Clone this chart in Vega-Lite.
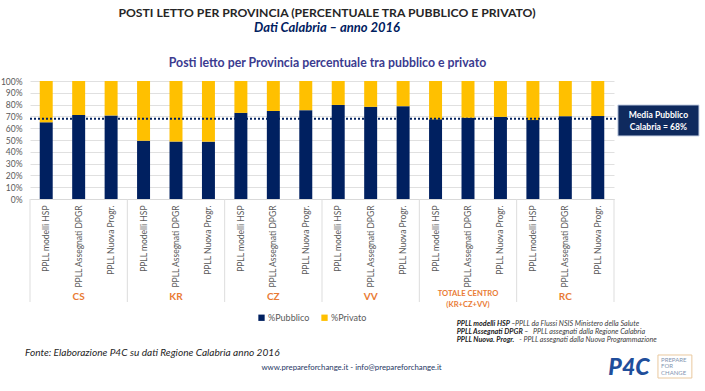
{
  "$schema": "https://vega.github.io/schema/vega-lite/v6.json",
  "width": 584,
  "height": 118,
  "autosize": {"type": "none"},
  "padding": {"left": 30, "top": 81, "right": 91, "bottom": 192},
  "background": "white",
  "title": {
    "text": "POSTI LETTO PER PROVINCIA (PERCENTUALE TRA PUBBLICO E PRIVATO)",
    "subtitle": "Dati Calabria – anno 2016",
    "anchor": "middle",
    "frame": "group",
    "offset": 22,
    "dx": 5,
    "font": "Lato",
    "fontSize": 12.2,
    "fontWeight": "bold",
    "color": "#262626",
    "subtitleFont": "Lato",
    "subtitleFontSize": 13,
    "subtitleFontStyle": "italic",
    "subtitleFontWeight": "bold",
    "subtitleColor": "#002060",
    "subtitlePadding": 3
  },
  "config": {
    "font": "Lato",
    "view": {"stroke": null},
    "axisY": {"labelOverlap": false}
  },
  "resolve": {"axis": {"x": "independent", "y": "independent"}},
  "data": {
    "values": [
      {"id": "CS|PPLL modelli HSP", "prov": "CS", "gruppo": "CS", "tipo": "PPLL modelli HSP", "pubblico": 65.0, "privato": 35.0},
      {"id": "CS|PPLL Assegnati DPGR", "prov": "CS", "gruppo": "CS", "tipo": "PPLL Assegnati DPGR", "pubblico": 71.2, "privato": 28.8},
      {"id": "CS|PPLL Nuova Progr.", "prov": "CS", "gruppo": "CS", "tipo": "PPLL Nuova Progr.", "pubblico": 70.8, "privato": 29.2},
      {"id": "KR|PPLL modelli HSP", "prov": "KR", "gruppo": "KR", "tipo": "PPLL modelli HSP", "pubblico": 49.4, "privato": 50.6},
      {"id": "KR|PPLL Assegnati DPGR", "prov": "KR", "gruppo": "KR", "tipo": "PPLL Assegnati DPGR", "pubblico": 48.7, "privato": 51.3},
      {"id": "KR|PPLL Nuova Progr.", "prov": "KR", "gruppo": "KR", "tipo": "PPLL Nuova Progr.", "pubblico": 48.6, "privato": 51.4},
      {"id": "CZ|PPLL modelli HSP", "prov": "CZ", "gruppo": "CZ", "tipo": "PPLL modelli HSP", "pubblico": 73.0, "privato": 27.0},
      {"id": "CZ|PPLL Assegnati DPGR", "prov": "CZ", "gruppo": "CZ", "tipo": "PPLL Assegnati DPGR", "pubblico": 74.6, "privato": 25.4},
      {"id": "CZ|PPLL Nuova Progr.", "prov": "CZ", "gruppo": "CZ", "tipo": "PPLL Nuova Progr.", "pubblico": 75.3, "privato": 24.7},
      {"id": "VV|PPLL modelli HSP", "prov": "VV", "gruppo": "VV", "tipo": "PPLL modelli HSP", "pubblico": 79.7, "privato": 20.3},
      {"id": "VV|PPLL Assegnati DPGR", "prov": "VV", "gruppo": "VV", "tipo": "PPLL Assegnati DPGR", "pubblico": 78.1, "privato": 21.9},
      {"id": "VV|PPLL Nuova Progr.", "prov": "VV", "gruppo": "VV", "tipo": "PPLL Nuova Progr.", "pubblico": 78.7, "privato": 21.3},
      {"id": "TC|PPLL modelli HSP", "prov": "TC", "gruppo": "TOTALE CENTRO\n(KR+CZ+VV)", "tipo": "PPLL modelli HSP", "pubblico": 67.5, "privato": 32.5},
      {"id": "TC|PPLL Assegnati DPGR", "prov": "TC", "gruppo": "TOTALE CENTRO\n(KR+CZ+VV)", "tipo": "PPLL Assegnati DPGR", "pubblico": 68.8, "privato": 31.2},
      {"id": "TC|PPLL Nuova Progr.", "prov": "TC", "gruppo": "TOTALE CENTRO\n(KR+CZ+VV)", "tipo": "PPLL Nuova Progr.", "pubblico": 69.6, "privato": 30.4},
      {"id": "RC|PPLL modelli HSP", "prov": "RC", "gruppo": "RC", "tipo": "PPLL modelli HSP", "pubblico": 66.9, "privato": 33.1},
      {"id": "RC|PPLL Assegnati DPGR", "prov": "RC", "gruppo": "RC", "tipo": "PPLL Assegnati DPGR", "pubblico": 70.2, "privato": 29.8},
      {"id": "RC|PPLL Nuova Progr.", "prov": "RC", "gruppo": "RC", "tipo": "PPLL Nuova Progr.", "pubblico": 70.3, "privato": 29.7}
    ]
  },
  "layer": [
    {
      "transform": [{"fold": ["pubblico", "privato"], "as": ["serie", "valore"]}],
      "mark": {"type": "bar", "width": {"band": 0.4}},
      "encoding": {
        "x": {
          "field": "id",
          "type": "nominal",
          "scale": {
            "domain": ["CS|PPLL modelli HSP", "CS|PPLL Assegnati DPGR", "CS|PPLL Nuova Progr.", "KR|PPLL modelli HSP", "KR|PPLL Assegnati DPGR", "KR|PPLL Nuova Progr.", "CZ|PPLL modelli HSP", "CZ|PPLL Assegnati DPGR", "CZ|PPLL Nuova Progr.", "VV|PPLL modelli HSP", "VV|PPLL Assegnati DPGR", "VV|PPLL Nuova Progr.", "TC|PPLL modelli HSP", "TC|PPLL Assegnati DPGR", "TC|PPLL Nuova Progr.", "RC|PPLL modelli HSP", "RC|PPLL Assegnati DPGR", "RC|PPLL Nuova Progr."],
            "paddingInner": 0,
            "paddingOuter": 0
          },
          "axis": {
            "title": null,
            "labelExpr": "split(datum.value, '|')[1]",
            "labelAngle": -90,
            "labelFontSize": 8.5,
            "labelColor": "#595959",
            "ticks": false,
            "domainColor": "#D9D9D9",
            "labelPadding": 6,
            "grid": false
          }
        },
        "y": {
          "field": "valore",
          "type": "quantitative",
          "stack": "zero",
          "scale": {"domain": [0, 100], "nice": false},
          "axis": {
            "title": null,
            "values": [0, 10, 20, 30, 40, 50, 60, 70, 80, 90, 100],
            "labelExpr": "datum.value + '%'",
            "labelOverlap": false,
            "labelFontSize": 8.5,
            "labelColor": "#595959",
            "domain": false,
            "ticks": false,
            "grid": true,
            "gridColor": "#E0E0E0",
            "gridWidth": 1,
            "labelPadding": 8
          }
        },
        "color": {
          "field": "serie",
          "type": "nominal",
          "scale": {"domain": ["pubblico", "privato"], "range": ["#002060", "#FFC000"]},
          "legend": {
            "title": null,
            "orient": "none",
            "legendX": 227,
            "legendY": 232,
            "direction": "horizontal",
            "symbolType": "square",
            "symbolSize": 40,
            "symbolStrokeWidth": 0,
            "labelFontSize": 9,
            "labelColor": "#595959",
            "labelOffset": 2,
            "columnPadding": 10,
            "labelExpr": "datum.label == 'pubblico' ? '%Pubblico' : '%Privato'"
          }
        },
        "order": {"field": "serie", "sort": "descending"}
      }
    },
    {
      "data": {"values": [{}]},
      "mark": {"type": "rule", "color": "#002060", "strokeWidth": 2, "strokeDash": [2, 2]},
      "encoding": {
        "y": {"datum": 68, "axis": null},
        "x": {"datum": "CS|PPLL modelli HSP", "bandPosition": 0, "axis": null},
        "x2": {"datum": "RC|PPLL Nuova Progr.", "bandPosition": 1.12}
      }
    },
    {
      "transform": [{"filter": "datum.tipo == 'PPLL modelli HSP'"}],
      "mark": {"type": "rule", "color": "#DDDDDD", "strokeWidth": 1},
      "encoding": {
        "x": {"field": "id", "type": "nominal", "bandPosition": 0, "axis": null},
        "y": {"datum": 0, "axis": null},
        "y2": {"datum": -87.3}
      }
    },
    {
      "data": {"values": [{}]},
      "mark": {"type": "rule", "color": "#DDDDDD", "strokeWidth": 1},
      "encoding": {
        "x": {"datum": "RC|PPLL Nuova Progr.", "bandPosition": 1, "axis": null},
        "y": {"datum": 0, "axis": null},
        "y2": {"datum": -87.3}
      }
    },
    {
      "transform": [{"filter": "datum.tipo == 'PPLL Assegnati DPGR' && datum.prov != 'TC'"}],
      "mark": {"type": "text", "color": "#E97B35", "fontWeight": "bold", "fontSize": 10, "baseline": "middle", "align": "center"},
      "encoding": {
        "x": {"field": "id", "type": "nominal", "axis": null},
        "y": {"datum": -82.8, "axis": null},
        "text": {"field": "gruppo"}
      }
    },
    {
      "transform": [{"filter": "datum.tipo == 'PPLL Assegnati DPGR' && datum.prov == 'TC'"}],
      "mark": {"type": "text", "color": "#E97B35", "fontWeight": "bold", "fontSize": 7.6, "lineBreak": "\n", "lineHeight": 11, "baseline": "middle", "align": "center"},
      "encoding": {
        "x": {"field": "id", "type": "nominal", "axis": null},
        "y": {"datum": -80.6, "axis": null},
        "text": {"field": "gruppo"}
      }
    },
    {
      "data": {"values": [{}]},
      "mark": {"type": "rect", "fill": "#0F2A5E", "stroke": "#C9D3E6", "strokeWidth": 1},
      "encoding": {
        "x": {"datum": "RC|PPLL Nuova Progr.", "bandPosition": 1.12, "axis": null},
        "x2": {"datum": "RC|PPLL Nuova Progr.", "bandPosition": 3.62},
        "y": {"datum": 79.7, "axis": null},
        "y2": {"datum": 53.4}
      }
    },
    {
      "data": {"values": [{}]},
      "mark": {"type": "text", "color": "white", "fontWeight": "bold", "fontSize": 8.6, "lineHeight": 12, "align": "center", "baseline": "middle"},
      "encoding": {
        "x": {"datum": "RC|PPLL Nuova Progr.", "bandPosition": 2.37, "axis": null},
        "y": {"datum": 71.2, "axis": null},
        "text": {"value": ["Media Pubblico", "Calabria = 68%"]}
      }
    },
    {
      "data": {"values": [{}]},
      "mark": {"type": "text", "color": "#3B3B8F", "fontWeight": "bold", "fontSize": 12.3, "align": "center", "baseline": "middle"},
      "encoding": {
        "x": {"datum": "VV|PPLL modelli HSP", "bandPosition": 0.17, "axis": null},
        "y": {"datum": 115.3, "axis": null},
        "text": {"value": "Posti letto per Provincia percentuale tra pubblico e privato"}
      }
    },
    {
      "data": {"values": [{}]},
      "mark": {"type": "text", "color": "#262626", "fontStyle": "italic", "fontSize": 10.1, "align": "left", "baseline": "middle", "dx": -5},
      "encoding": {
        "x": {"datum": "CS|PPLL modelli HSP", "bandPosition": 0, "axis": null},
        "y": {"datum": -130.5, "axis": null},
        "text": {"value": "Fonte: Elaborazione P4C su dati Regione Calabria anno 2016"}
      }
    },
    {
      "data": {"values": [{}]},
      "mark": {"type": "text", "color": "#1F3864", "fontSize": 7.8, "align": "center", "baseline": "middle"},
      "encoding": {
        "x": {"datum": "VV|PPLL modelli HSP", "bandPosition": 0.91, "axis": null},
        "y": {"datum": -143, "axis": null},
        "text": {"value": "www.prepareforchange.it - info@prepareforchange.it"}
      }
    },
    {
      "data": {"values": [{}]},
      "mark": {"type": "text", "color": "#1A1A1A", "fontStyle": "italic", "fontWeight": "bold", "fontSize": 7.2, "lineHeight": 8, "align": "left", "baseline": "middle"},
      "encoding": {
        "x": {"datum": "TC|PPLL Assegnati DPGR", "bandPosition": 0.15, "axis": null},
        "y": {"datum": -106.0, "axis": null},
        "text": {"value": ["PPLL modelli HSP –", "PPLL Assegnati DPGR –", "PPLL Nuova. Progr."]}
      }
    },
    {
      "data": {"values": [{}]},
      "mark": {"type": "text", "color": "#404040", "fontStyle": "italic", "fontSize": 7.2, "align": "left", "baseline": "middle"},
      "encoding": {
        "x": {"datum": "TC|PPLL Nuova Progr.", "bandPosition": 0.95, "axis": null},
        "y": {"datum": -106.0, "axis": null},
        "text": {"value": "PPLL da Flussi NSIS Ministero della Salute"}
      }
    },
    {
      "data": {"values": [{}]},
      "mark": {"type": "text", "color": "#404040", "fontStyle": "italic", "fontSize": 7.2, "align": "left", "baseline": "middle"},
      "encoding": {
        "x": {"datum": "RC|PPLL modelli HSP", "bandPosition": 0.5, "axis": null},
        "y": {"datum": -112.8, "axis": null},
        "text": {"value": "PPLL assegnati dalla Regione Calabria"}
      }
    },
    {
      "data": {"values": [{}]},
      "mark": {"type": "text", "color": "#404040", "fontStyle": "italic", "fontSize": 7.2, "align": "left", "baseline": "middle"},
      "encoding": {
        "x": {"datum": "RC|PPLL modelli HSP", "bandPosition": 0.08, "axis": null},
        "y": {"datum": -119.6, "axis": null},
        "text": {"value": "- PPLL assegnati dalla Nuova Programmazione"}
      }
    },
    {
      "data": {"values": [{}]},
      "mark": {"type": "text", "color": "#1F4E9B", "fontStyle": "italic", "fontWeight": 900, "fontSize": 23, "align": "center", "baseline": "middle"},
      "encoding": {
        "x": {"datum": "RC|PPLL Nuova Progr.", "bandPosition": 1.46, "axis": null},
        "y": {"datum": -142.8, "axis": null},
        "text": {"value": "P4C"}
      }
    },
    {
      "data": {"values": [{}]},
      "mark": {"type": "rect", "fill": "white", "stroke": "#E9C89E", "strokeWidth": 1},
      "encoding": {
        "x": {"datum": "RC|PPLL Nuova Progr.", "bandPosition": 2.355, "axis": null},
        "x2": {"datum": "RC|PPLL Nuova Progr.", "bandPosition": 3.4},
        "y": {"datum": -132.2, "axis": null},
        "y2": {"datum": -151.7}
      }
    },
    {
      "data": {"values": [{}]},
      "mark": {"type": "text", "color": "#8394B0", "fontSize": 6, "lineHeight": 6.5, "align": "left", "baseline": "middle"},
      "encoding": {
        "x": {"datum": "RC|PPLL Nuova Progr.", "bandPosition": 2.45, "axis": null},
        "y": {"datum": -136.4, "axis": null},
        "text": {"value": ["PREPARE", "FOR", "CHANGE"]}
      }
    }
  ]
}
